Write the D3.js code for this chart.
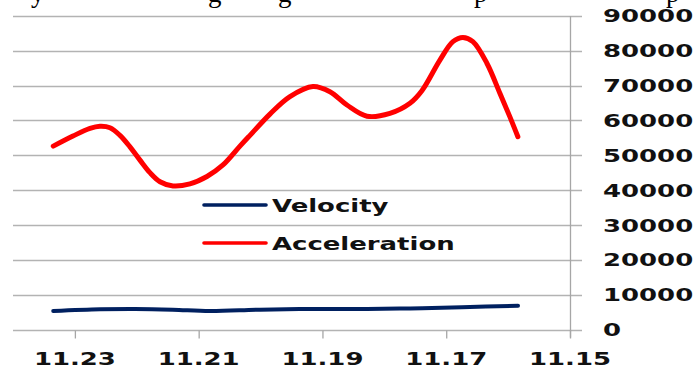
<!DOCTYPE html>
<html>
<head>
<meta charset="utf-8">
<script src="https://cdn.jsdelivr.net/npm/d3@7"></script>
<style>
  html, body { margin: 0; padding: 0; background: #fff; }
  svg { display: block; }
</style>
</head>
<body>
<svg id="chart" width="697" height="370"></svg>
<script>
// ---- data ----
const velocityX = [11.2335, 11.2259, 11.2203, 11.2142, 11.2082, 11.2001, 11.1915, 11.1828, 11.1775, 11.1739, 11.1675, 11.1584];
const velocity = [5300, 5800, 5900, 5700, 5300, 5700, 5900, 5900, 6000, 6100, 6400, 6800];
const accelerationX = [11.23349, 11.23031, 11.22756, 11.22595, 11.22433, 11.22271, 11.22110, 11.21948, 11.21787,
  11.21625, 11.21415, 11.21141, 11.20866, 11.20607, 11.20333, 11.20171, 11.19848, 11.19525, 11.19153, 11.18879,
  11.18604, 11.18281, 11.17910, 11.17586, 11.17393, 11.17102, 11.16892, 11.16730, 11.16569, 11.16343, 11.16133,
  11.15971, 11.15842];
const acceleration = [52600, 55500, 57700, 58300, 57900, 55700, 52400, 48600, 45000,
  42400, 41200, 41800, 43900, 47200, 52600, 55700, 61800, 66800, 69700, 68200,
  64400, 61200, 62000, 64900, 68500, 77300, 82600, 83800, 82600, 76400, 67800,
  61000, 55300];
const xTicks = [11.23, 11.21, 11.19, 11.17, 11.15];
const xTickLabels = ["11.23", "11.21", "11.19", "11.17", "11.15"];
const yTicks = [0, 10000, 20000, 30000, 40000, 50000, 60000, 70000, 80000, 90000];
const seriesNames = ["Velocity", "Acceleration"];
const seriesColors = ["#002060", "#ff0000"];
const topFragments = [
  { ch: "y", x: 31 }, { ch: "g", x: 208 }, { ch: "g", x: 278 },
  { ch: "p", x: 474 }, { ch: "p", x: 666 }
];

(function () {
// ---- layout ----
const svg = d3.select("#chart");
const pLeft = 13, pRight = 570, pTop = 15.8, pBottom = 329.5;
const stretch = 1.44;
const font = "'DejaVu Sans', Verdana, sans-serif";

const x = d3.scaleLinear().domain([11.24, 11.15]).range([pLeft, pRight]);
const y = d3.scaleLinear().domain([0, 90000]).range([pBottom, pTop]);

function stretchText(sel, anchor) {
  sel.each(function() {
    const t = d3.select(this);
    const w = this.getComputedTextLength();
    const nw = w * stretch;
    t.attr("textLength", nw).attr("lengthAdjust", "spacingAndGlyphs");
    if (anchor === "middle") t.attr("x", +t.attr("x") - nw / 2);
  });
}

// cropped text fragments at the top (the reference shows only their descenders)
svg.append("g").selectAll("text").data(topFragments).join("text")
  .attr("x", d => d.x).attr("y", 2)
  .attr("font-family", "'Liberation Serif', 'Times New Roman', serif")
  .attr("font-size", 27)
  .attr("fill", "#000")
  .text(d => d.ch);

// gridlines
svg.append("g").selectAll("line").data(yTicks).join("line")
  .attr("x1", pLeft).attr("x2", pRight + 12)
  .attr("y1", d => Math.round(y(d)) + 0.5).attr("y2", d => Math.round(y(d)) + 0.5)
  .attr("stroke", "#b3b3b3").attr("stroke-width", 1.3);

// right axis line
svg.append("line")
  .attr("x1", pRight + 0.5).attr("x2", pRight + 0.5)
  .attr("y1", Math.round(y(90000))).attr("y2", pBottom + 8)
  .attr("stroke", "#a6a6a6").attr("stroke-width", 1.3);

// x-axis ticks
const xAxis = d3.axisBottom(x).tickValues(xTicks).tickSize(8).tickFormat("");
const gx = svg.append("g").attr("transform", `translate(0,${Math.round(pBottom) + 0.5})`).call(xAxis);
gx.select(".domain").remove();
gx.selectAll(".tick line").attr("stroke", "#a6a6a6").attr("stroke-width", 1.3);

// x labels
svg.append("g").selectAll("text").data(xTicks).join("text")
  .attr("x", d => x(d)).attr("y", 365)
  .attr("font-family", font).attr("font-weight", "bold").attr("font-size", 18)
  .attr("fill", "#111")
  .text((d, i) => xTickLabels[i])
  .call(stretchText, "middle");

// y labels
svg.append("g").selectAll("text").data(yTicks).join("text")
  .attr("x", 603).attr("y", d => y(d) + 6.6)
  .attr("font-family", font).attr("font-weight", "bold").attr("font-size", 18)
  .attr("fill", "#111")
  .text(d => String(d))
  .call(stretchText, "start");

// lines
const line = d3.line()
  .x(d => x(d[0])).y(d => y(d[1]))
  .curve(d3.curveCatmullRom.alpha(0.5));

svg.append("path")
  .datum(velocityX.map((v, i) => [v, velocity[i]]))
  .attr("d", line).attr("fill", "none")
  .attr("stroke", seriesColors[0]).attr("stroke-width", 4).attr("stroke-linecap", "round");

svg.append("path")
  .datum(accelerationX.map((v, i) => [v, acceleration[i]]))
  .attr("d", line).attr("fill", "none")
  .attr("stroke", seriesColors[1]).attr("stroke-width", 5).attr("stroke-linecap", "round")
  .attr("stroke-linejoin", "round");

// legend
const legendY = [205, 243];
const lg = svg.append("g");
lg.selectAll("line").data(seriesNames).join("line")
  .attr("x1", 204).attr("x2", 266)
  .attr("y1", (d, i) => legendY[i]).attr("y2", (d, i) => legendY[i])
  .attr("stroke", (d, i) => seriesColors[i]).attr("stroke-width", 3.6).attr("stroke-linecap", "round");
lg.selectAll("text").data(seriesNames).join("text")
  .attr("x", 272).attr("y", (d, i) => legendY[i] + 6.6)
  .attr("font-family", font).attr("font-weight", "bold").attr("font-size", 18)
  .attr("fill", "#111")
  .text(d => d)
  .call(stretchText, "start");
})();
</script>
</body>
</html>
